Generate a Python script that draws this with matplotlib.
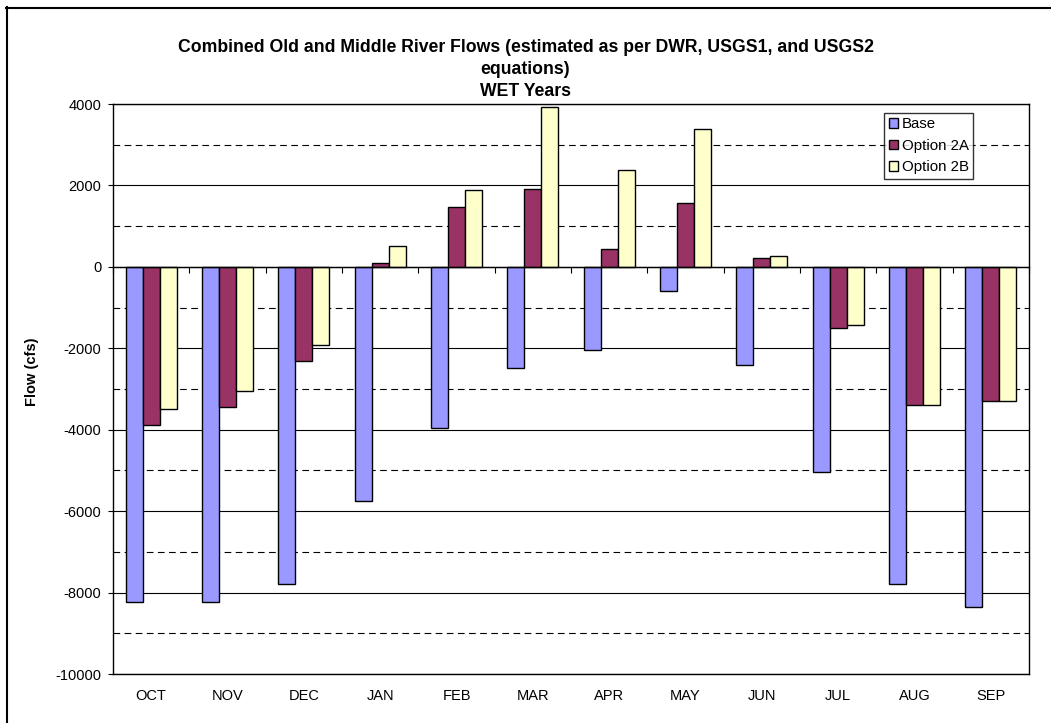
import numpy as np
import matplotlib.pyplot as plt
from matplotlib.lines import Line2D

plt.rcParams['font.family'] = ['Liberation Sans', 'DejaVu Sans']
plt.rcParams['axes.unicode_minus'] = False

# valores (cfs)
months = ['OCT', 'NOV', 'DEC', 'JAN', 'FEB', 'MAR', 'APR', 'MAY', 'JUN', 'JUL', 'AUG', 'SEP']
base = [-8230, -8230, -7800, -5740, -3970, -2480, -2040, -600, -2420, -5050, -7790, -8350]
option_2a = [-3890, -3440, -2300, 100, 1460, 1910, 450, 1580, 220, -1500, -3400, -3290]
option_2b = [-3490, -3040, -1910, 520, 1880, 3920, 2380, 3380, 260, -1420, -3400, -3290]

series = [('Base', base, '#9999FF'),
          ('Option 2A', option_2a, '#993366'),
          ('Option 2B', option_2b, '#FFFFCC')]

W, H = 1051, 723
fig = plt.figure(figsize=(W / 100, H / 100), dpi=100)
ax = fig.add_axes([113 / W, 1 - 674 / H, (1029 - 113) / W, (674 - 104) / H])

x = np.arange(len(months))
w = 0.222
for i, (name, vals, col) in enumerate(series):
    ax.bar(x + (i - 1) * w, vals, w, color=col, edgecolor='black',
           linewidth=1, label=name, zorder=3)

ax.set_xlim(-0.5, len(months) - 0.5)
ax.set_ylim(-10000, 4000)
ax.set_yticks(np.arange(-10000, 4001, 2000))
ax.set_yticks(np.arange(-9000, 4000, 2000), minor=True)
ax.grid(True, which='major', axis='y', color='black', linewidth=0.8)
ax.grid(True, which='minor', axis='y', color='black', linewidth=0.8,
        linestyle=(0, (6, 4)))
ax.set_axisbelow(True)
ax.tick_params(axis='y', which='major', direction='out', length=3.5,
               labelsize=10.5, pad=5)
ax.tick_params(axis='y', which='minor', length=0)
ax.set_xticks(x)
ax.set_xticklabels(months)
ax.tick_params(axis='x', length=0, labelsize=10.5, pad=10.5)
for s in ax.spines.values():
    s.set_color('black')
    s.set_linewidth(1)

# eje de categorias en el cero
ax2 = ax.twiny()
ax2.set_xlim(ax.get_xlim())
for k in ['top', 'left', 'right']:
    ax2.spines[k].set_visible(False)
ax2.spines['bottom'].set_position(('data', 0))
ax2.spines['bottom'].set_linewidth(1)
ax2.xaxis.set_ticks_position('bottom')
ax2.set_xticks(np.arange(-0.5, len(months), 1))
ax2.tick_params(axis='x', direction='out', length=4,
                labelbottom=False, labeltop=False)

ax.set_ylabel('Flow (cfs)', fontsize=10.5, fontweight='bold')
ax.yaxis.set_label_coords((39 - 113) / 916, 0.53)

fig.text(0.5, 1 - 100 / H,
         'Combined Old and Middle River Flows (estimated as per DWR, USGS1, and USGS2\nequations)\nWET Years',
         ha='center', va='bottom', fontsize=12.7, fontweight='bold',
         linespacing=1.4)

leg = ax.legend(loc='upper right', bbox_to_anchor=((973 - 113) / 916, (674 - 113) / 570),
                fontsize=10.8, frameon=True, fancybox=False, edgecolor='black',
                handlelength=0.6, handleheight=0.6, handletextpad=0.25,
                borderaxespad=0, labelspacing=0.5, borderpad=0.3)
leg.get_frame().set_linewidth(1)
leg.set_zorder(10)

# marco del grafico
fig.add_artist(Line2D([6.5 / W, 6.5 / W], [0, 1 - 7 / H], color='black', linewidth=1.5))
fig.add_artist(Line2D([6 / W, 1], [1 - 7.5 / H, 1 - 7.5 / H], color='black', linewidth=1.5))

fig.savefig('out.png', dpi=100)
